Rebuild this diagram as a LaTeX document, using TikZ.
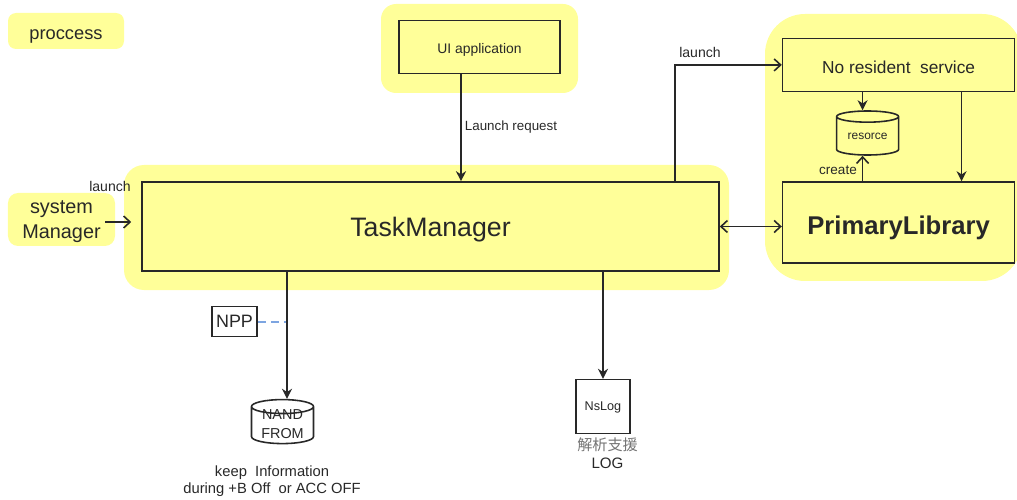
\documentclass[tikz,border=0pt]{standalone}
\usepackage{fontspec}
\setmainfont{Liberation Sans}
\newfontfamily\cjkfont{Noto Sans CJK JP}
\usetikzlibrary{shapes.geometric, arrows.meta, positioning, calc}
\definecolor{procYellow}{RGB}{255, 255, 153}
\definecolor{inkGray}{RGB}{40, 40, 40}
\definecolor{dashBlue}{RGB}{125, 165, 225}

\begin{document}
\begin{tikzpicture}[
    blob/.style={rectangle, fill=procYellow, rounded corners=#1, text=inkGray, text depth=0pt},
    box/.style={rectangle, draw=inkGray, line width=0.9pt, fill=procYellow, text=inkGray, align=center, text depth=0pt},
    whitebox/.style={box, fill=white},
    store/.style={cylinder, shape border rotate=90, aspect=0.28, draw=inkGray, line width=0.9pt, text=inkGray, align=center, inner sep=0pt, minimum width=1.24cm, minimum height=0.88cm},
    arrow/.style={-{Stealth[length=2mm,width=2mm]}, draw=inkGray, line width=0.9pt},
    openarrow/.style={-{Straight Barb[length=1.3mm,width=2.4mm]}, draw=inkGray, line width=0.9pt},
    tag/.style={text=inkGray, inner sep=0pt, align=center, font=\fontsize{8}{10}\selectfont}
]
\useasboundingbox (0,0) rectangle (20.34,9.98);

% Process areas
\node[blob=0.16cm, minimum width=2.32cm, minimum height=0.72cm, text height=9.2pt, font=\fontsize{10.4}{12}\selectfont] (proccess) at (1.32,9.36) {proccess};
\node[blob=0.3cm, minimum width=3.94cm, minimum height=1.78cm] (uiarea) at (9.59,9.01) {};
\node[blob=0.4cm, minimum width=12.1cm, minimum height=2.5cm] (taskarea) at (8.53,5.43) {};
\node[blob=0.8cm, minimum width=5.14cm, minimum height=5.34cm] (libarea) at (17.87,7.03) {};
\node[blob=0.2cm, minimum width=2.14cm, minimum height=1.06cm, align=center, inner sep=0pt, font=\fontsize{11.3}{14.2}\selectfont] (sysman) at (1.23,5.59) {system\\Manager};

% Main blocks
\node[box, minimum width=11.54cm, minimum height=1.78cm, font=\fontsize{15.2}{18}\selectfont] (task) at (8.61,5.45) {TaskManager};
\node[box, above=2.14cm of task, xshift=0.98cm, minimum width=3.22cm, minimum height=1.06cm, text height=8pt, font=\fontsize{7.9}{10}\selectfont] (ui) {UI application};
\node[box, right=1.24cm of task, yshift=0.08cm, minimum width=4.64cm, minimum height=1.62cm, text height=14pt, font=\bfseries\fontsize{14.6}{18}\selectfont] (primary) {PrimaryLibrary};
\node[box, above=1.78cm of primary, minimum width=4.64cm, minimum height=1.06cm, text height=9.3pt, font=\fontsize{9.85}{12}\selectfont] (service) {No resident\ \ service};
\node[store, fill=procYellow, below=0.36cm of service, xshift=-0.62cm, font=\fontsize{6.8}{8}\selectfont] (resorce) {resorce};

% Storage and log
\node[store, fill=white, below=2.54cm of task, xshift=-2.96cm] (nand) {\phantom{NAND}};
\node[tag, font=\fontsize{8.2}{10.7}\selectfont, yshift=0.02cm] (nandtext) at (nand.center) {NAND\\FROM};
\node[whitebox, below=0.68cm of task, xshift=-3.92cm, minimum width=0.9cm, minimum height=0.6cm, inner sep=0pt, font=\fontsize{10.2}{12}\selectfont] (npp) {NPP};
\coordinate[right=0.56cm of npp] (nppend);
\node[whitebox, below=2.14cm of task, xshift=3.45cm, minimum width=1.08cm, minimum height=1.08cm, inner sep=0pt, font=\fontsize{7.2}{9}\selectfont] (nslog) {NsLog};

% Labels
\node[tag, font=\fontsize{7.6}{10}\selectfont] (reqlabel) at (10.22,7.44) {Launch request};
\node[tag] (launchlabel) at (14.0,8.94) {launch};
\node[tag] (syslabel) at (2.2,6.26) {launch};
\node[tag, font=\fontsize{7.7}{10}\selectfont] (createlabel) at (16.76,6.58) {create};
\node[tag, font=\fontsize{8.4}{9.6}\selectfont] (keeplabel) at (5.44,0.35) {keep\ \ Information\\during +B Off\ \ or ACC OFF};
\node[tag, font=\fontsize{8.6}{10.2}\selectfont] (loglabel) at (12.15,0.91) {{\cjkfont\color{black!55}解析支援}\\LOG};

% Arrows
\draw[arrow] ([xshift=-0.37cm]ui.south) -- ([xshift=-0.37cm]ui.south |- task.north);
\draw[openarrow] ([xshift=4.89cm]task.north) |- (service.west);
\draw[openarrow] ([xshift=-0.2cm,yshift=-0.05cm]sysman.east) -- ([xshift=-0.2cm,yshift=-0.05cm]sysman.east -| task.west);
\draw[openarrow, {Straight Barb[length=1.3mm,width=2.4mm]}-{Straight Barb[length=1.3mm,width=2.4mm]}] (task.east) -- (task.east -| primary.west);
\draw[arrow] ([xshift=-2.87cm]task.south) -- ([xshift=-2.87cm]task.south |- nand.north);
\draw[arrow] (task.south -| nslog.north) -- (nslog.north);
\draw[arrow] ([xshift=-0.72cm]service.south) -- ([xshift=-0.72cm]service.south |- resorce.north);
\draw[arrow] ([xshift=1.26cm]service.south) -- ([xshift=1.26cm]service.south |- primary.north);
\draw[openarrow] ([xshift=-0.72cm]primary.north) -- ([xshift=-0.72cm]primary.north |- resorce.south);
\draw[draw=dashBlue, line width=1.2pt, dash pattern=on 0.16cm off 0.1cm] (npp.east) -- (nppend);

\end{tikzpicture}
\end{document}
